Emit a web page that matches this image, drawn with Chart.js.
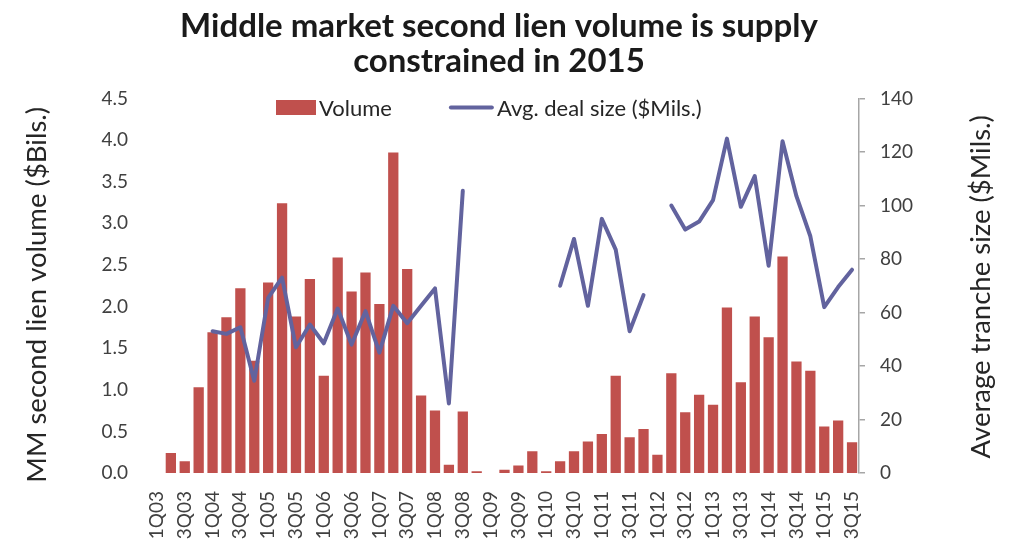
<!DOCTYPE html>
<html>
<head>
<meta charset="utf-8">
<script src="https://cdn.jsdelivr.net/npm/chart.js@4.4.0/dist/chart.umd.min.js"></script>
<style>
  html, body { margin: 0; padding: 0; background: #ffffff; }
  #wrap { width: 1014px; height: 546px; position: relative; }
</style>
</head>
<body>
<div id="wrap"><canvas id="c"></canvas></div>
<script>
const quarters = [
  "1Q03","2Q03","3Q03","4Q03","1Q04","2Q04","3Q04","4Q04",
  "1Q05","2Q05","3Q05","4Q05","1Q06","2Q06","3Q06","4Q06",
  "1Q07","2Q07","3Q07","4Q07","1Q08","2Q08","3Q08","4Q08",
  "1Q09","2Q09","3Q09","4Q09","1Q10","2Q10","3Q10","4Q10",
  "1Q11","2Q11","3Q11","4Q11","1Q12","2Q12","3Q12","4Q12",
  "1Q13","2Q13","3Q13","4Q13","1Q14","2Q14","3Q14","4Q14",
  "1Q15","2Q15","3Q15"
];
// MM second lien volume ($Bils.)
const volume = [
  0, 0.24, 0.14, 1.03, 1.69, 1.87, 2.22, 1.35,
  2.29, 3.24, 1.88, 2.33, 1.17, 2.59, 2.18, 2.41,
  2.03, 3.85, 2.45, 0.93, 0.75, 0.10, 0.74, 0.02,
  0, 0.04, 0.09, 0.26, 0.02, 0.14, 0.26, 0.38,
  0.47, 1.17, 0.43, 0.53, 0.22, 1.20, 0.73, 0.94,
  0.82, 1.99, 1.09, 1.88, 1.63, 2.60, 1.34, 1.23,
  0.56, 0.63, 0.37
];
// Avg. deal size ($Mils.)
const avgDealSize = [
  null, null, null, null, 53, 52, 54.5, 34.5,
  65.5, 73, 47, 55.5, 48.5, 61.5, 48, 60.5,
  45, 62.5, 56, 62.5, 69, 26, 105.5, null,
  null, null, null, null, null, 70, 87.5, 62.5,
  95, 83.5, 53, 66.5, null, 100, 91, 94,
  102, 125, 99.5, 111, 77.5, 124, 103.5, 88.5,
  62, 69.5, 76
];
const leftTicks = { min: 0, max: 4.5, step: 0.5 };
const rightTicks = { min: 0, max: 140, step: 20 };
const seriesNames = ["Volume", "Avg. deal size ($Mils.)"];
const titleLines = ["Middle market second lien volume is supply", "constrained in 2015"];
const leftTitle = "MM second lien volume ($Bils.)";
const rightTitle = "Average tranche size ($Mils.)";

const BAR_COLOR = "#c0504d";
const LINE_COLOR = "#62639e";
const FONT = "Lato, 'Noto Sans', sans-serif";

const customLegendAndTitles = {
  id: "customLegendAndTitles",
  afterDraw(chart) {
    const ctx = chart.ctx;
    const ca = chart.chartArea;
    const ds = chart.data.datasets;
    const barDs = ds.find(d => d.type === "bar");
    const lineDs = ds.find(d => d.type === "line");
    ctx.save();
    // chart title
    ctx.font = "bold 33px " + FONT;
    ctx.fillStyle = "#1a1a1a";
    ctx.textAlign = "center";
    ctx.textBaseline = "alphabetic";
    const tx = (ca.left + ca.right) / 2 - 5.5;
    ctx.fillText(titleLines[0], tx, ca.top - 61.5);
    ctx.fillText(titleLines[1], tx, ca.top - 26.5);
    // legend
    ctx.textAlign = "left";
    ctx.font = "22px " + FONT;
    ctx.textBaseline = "middle";
    const w1 = ctx.measureText(barDs.label).width;
    let x = ca.left + 126;
    const y = ca.top + 9;
    ctx.fillStyle = barDs.backgroundColor;
    ctx.fillRect(x, y - 7.5, 40, 15);
    x += 43;
    ctx.fillStyle = "#262626";
    ctx.fillText(barDs.label, x, y + 1);
    x += w1 + 59;
    ctx.strokeStyle = lineDs.borderColor;
    ctx.lineWidth = 4;
    ctx.lineCap = "round";
    ctx.beginPath();
    ctx.moveTo(x, y);
    ctx.lineTo(x + 41, y);
    ctx.stroke();
    x += 46;
    ctx.fillText(lineDs.label, x, y + 1);
    // axis titles (both read bottom-to-top)
    const cy = (ca.top + ca.bottom) / 2;
    ctx.font = "27.5px " + FONT;
    ctx.fillStyle = "#262626";
    ctx.textAlign = "center";
    ctx.textBaseline = "middle";
    ctx.save();
    ctx.translate(37, cy + 9);
    ctx.rotate(-Math.PI / 2);
    ctx.fillText(leftTitle, 0, 0);
    ctx.restore();
    ctx.save();
    ctx.translate(chart.width - 33, cy + 1);
    ctx.rotate(-Math.PI / 2);
    ctx.fillText(rightTitle, 0, 0);
    ctx.restore();
    ctx.restore();
  }
};

new Chart(document.getElementById("c"), {
  type: "bar",
  data: {
    labels: quarters,
    datasets: [
      {
        type: "line",
        label: seriesNames[1],
        data: avgDealSize,
        yAxisID: "y1",
        borderColor: LINE_COLOR,
        backgroundColor: LINE_COLOR,
        borderWidth: 4,
        pointRadius: 0,
        pointHoverRadius: 0,
        tension: 0,
        spanGaps: false,
        borderCapStyle: "round",
        borderJoinStyle: "round",
        order: 1
      },
      {
        type: "bar",
        label: seriesNames[0],
        data: volume,
        yAxisID: "y",
        backgroundColor: BAR_COLOR,
        borderWidth: 0,
        barPercentage: 0.74,
        categoryPercentage: 1.0,
        order: 2
      }
    ]
  },
  options: {
    responsive: true,
    maintainAspectRatio: false,
    animation: false,
    devicePixelRatio: 1,
    layout: { padding: { top: 98.5, left: 0, right: 0, bottom: 0 } },
    plugins: {
      legend: { display: false },
      tooltip: { enabled: false },
      title: { display: false }
    },
    scales: {
      x: {
        grid: { display: false, drawTicks: false },
        border: { display: false },
        ticks: {
          autoSkip: false,
          maxRotation: 90,
          minRotation: 90,
          padding: 18,
          color: "#404040",
          font: { family: FONT, size: 19 },
          callback: function (v, i) { return i % 2 === 0 ? this.getLabelForValue(v) : ""; }
        },
        afterFit(scale) { scale.height = 73; }
      },
      y: {
        position: "left",
        min: leftTicks.min,
        max: leftTicks.max,
        grid: { display: false, drawTicks: false },
        border: { display: false },
        ticks: {
          stepSize: leftTicks.step,
          padding: 22,
          color: "#404040",
          font: { family: FONT, size: 19 },
          callback: (v) => v.toFixed(1)
        },
        afterFit(scale) { scale.width = 150; }
      },
      y1: {
        position: "right",
        min: rightTicks.min,
        max: rightTicks.max,
        grid: {
          display: true,
          drawOnChartArea: false,
          drawTicks: true,
          tickLength: 6,
          color: "#a6a6a6",
          lineWidth: 1.5
        },
        border: { display: true, color: "#a6a6a6", width: 1.5 },
        ticks: {
          stepSize: rightTicks.step,
          padding: 15,
          color: "#404040",
          font: { family: FONT, size: 19 }
        },
        afterFit(scale) { scale.width = 155; }
      }
    }
  },
  plugins: [customLegendAndTitles]
});
</script>
</body>
</html>
